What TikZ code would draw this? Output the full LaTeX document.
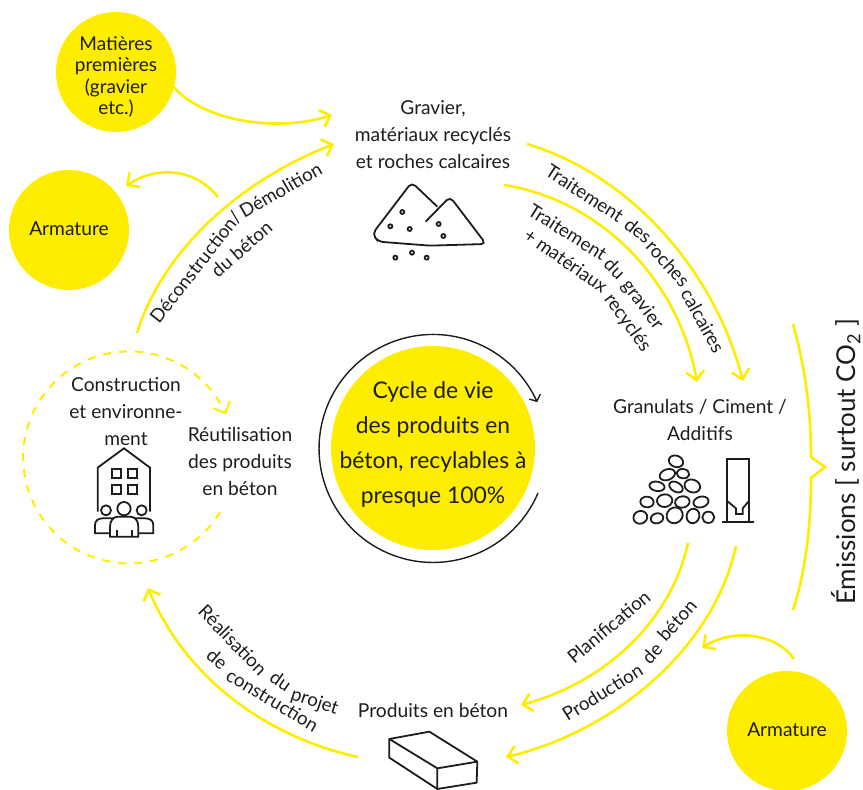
\documentclass[tikz,border=0pt]{standalone}
\usepackage{fontspec}
\setmainfont{Lato}
\usetikzlibrary{arrows.meta,bending}
\definecolor{cycleyellow}{HTML}{FFED00}
\definecolor{inktext}{HTML}{1D1D1B}
\tikzset{>={Straight Barb[length=9pt,width=18pt]}}
\tikzset{
  yellowdisc/.style={circle,fill=cycleyellow,inner sep=0pt,minimum size=#1},
  flowline/.style={draw=cycleyellow,line width=2.6pt,->},
  iconline/.style={draw=inktext,line width=1.8pt},
  label/.style={text=inktext,align=center,inner sep=0pt,font=\fontsize{19.2}{27}\selectfont},
  curveword/.style={text=inktext,inner sep=0pt,anchor=base,font=\fontsize{18.7}{22}\selectfont},
}

\begin{document}
\begin{tikzpicture}[x=1pt,y=-1pt]
  \clip (0,0) rectangle (863,790);

  % Discs
  \node[yellowdisc=120pt] (matieres) at (116,72) {};
  \node[yellowdisc=120pt] (armatureleft) at (69,230) {};
  \node[yellowdisc=120pt] (armatureright) at (787,731) {};
  \node[yellowdisc=204pt] (cycle) at (433,448) {};

  % Labels
  \node[label,font=\fontsize{19}{21.5}\selectfont] (matierestext) at (116,77) {Matières\\premières\\(gravier\\etc.)};
  \node[label] (armaturelefttext) at (69,229) {Armature};
  \node[label] (armaturerighttext) at (787,730) {Armature};
  \node[label,font=\fontsize{22.9}{35}\selectfont] (cycletext) at (433,445) {Cycle de vie\\des produits en\\béton, recylables à\\presque 100\%};
  \node[label] (gravier) at (433,135) {Gravier,\\matériaux recyclés\\et roches calcaires};
  \node[label] (granulats) at (700,420) {Granulats / Ciment /\\Additifs};
  \node[label] (produits) at (433,711) {Produits en béton};
  \node[label] (construction) at (126,412) {Construction\\et environne-\\ment};
  \node[label] (reutilisation) at (240,462) {Réutilisation\\des produits\\en béton};
  \node[label,rotate=90,font=\fontsize{26}{30}\selectfont] (emissions) at (846,462) {Émissions [ surtout CO\textsubscript{2} ]};

  % Free ends of the connectors
  \coordinate (gravierin) at (332,115);
  \coordinate (gravierback) at (334,144);
  \coordinate (demolition) at (137,333);
  \coordinate (armaturefork) at (218,197);
  \coordinate (armatureend) at (126,186);
  \coordinate (rochesout) at (527,144);
  \coordinate (rochesin) at (743,381);
  \coordinate (gravillonout) at (504,185);
  \coordinate (gravillonin) at (697,382);
  \coordinate (planout) at (688,543);
  \coordinate (planin) at (521,705);
  \coordinate (prodout) at (736,546);
  \coordinate (prodin) at (506,757);
  \coordinate (armaturestart) at (794,659);
  \coordinate (armaturejoin) at (702,648);
  \coordinate (realout) at (358,757);
  \coordinate (realin) at (148,588);

  % Connectors
  \draw[flowline] (matieres.-15.7) .. controls (205,122) and (280,133) .. (gravierin);
  \draw[flowline] (demolition) .. controls (163,250) and (240,180) .. (gravierback);
  \draw[flowline] (armaturefork) .. controls (195,168) and (155,165) .. (armatureend);
  \draw[flowline] (rochesout) .. controls (630,175) and (715,270) .. (rochesin);
  \draw[flowline] (gravillonout) .. controls (600,200) and (680,280) .. (gravillonin);
  \draw[flowline] (planout) .. controls (670,625) and (600,685) .. (planin);
  \draw[flowline] (prodout) .. controls (712,655) and (605,735) .. (prodin);
  \draw[flowline] (armaturestart) .. controls (775,632) and (730,628) .. (armaturejoin);
  \draw[flowline] (realout) .. controls (270,738) and (185,680) .. (realin);

  % Dashed cycle and black cycle
  \coordinate (reuseout) at (220,512);
  \draw[flowline,line width=2pt,dash pattern=on 8pt off 8pt] (reuseout) arc[start angle=31,end angle=336,radius=106];
  \coordinate (cycleout) at (538,493);
  \draw[draw=inktext,line width=1.4pt,-{Straight Barb[length=5pt,width=12pt]}] (cycleout) arc[start angle=23,end angle=336,radius=114];

  % Brace
  \draw[draw=cycleyellow,line width=2.6pt] (793,324) .. controls (806,370) and (811,415) .. (811,457) -- (825,467) -- (811,478) .. controls (811,525) and (806,570) .. (793,610);

  % Words along the connectors
  \node[curveword,rotate=-33] (roches1) at (581,199) {Traitement};
  \node[curveword,rotate=-38] (roches2) at (634,236) {des};
  \node[curveword,rotate=-48] (roches3) at (663,268) {roches};
  \node[curveword,rotate=-61] (roches4) at (697,324) {calcaires};
  \node[curveword,rotate=-32] (gravier1) at (564,238) {Traitement};
  \node[curveword,rotate=-45] (gravier2) at (610,273) {du};
  \node[curveword,rotate=-53] (gravier3) at (638,308) {gravier};
  \node[curveword,rotate=-35] (recycles1) at (562,266) {+ matériaux};
  \node[curveword,rotate=-54] (recycles2) at (623,326) {recyclés};
  \node[curveword,rotate=52] (demo1) at (201,271) {Déconstruction/};
  \node[curveword,rotate=30] (demo2) at (284,196) {Démolition};
  \node[curveword,rotate=41] (demo3) at (246,254) {du béton};
  \node[curveword,rotate=-46] (real1) at (228,645) {Réalisation};
  \node[curveword,rotate=-35] (real2) at (277,686) {du};
  \node[curveword,rotate=-18] (real3) at (313,707) {projet};
  \node[curveword,rotate=-40] (real4) at (213,664) {de};
  \node[curveword,rotate=-31] (real5) at (269,706) {construction};
  \node[curveword,rotate=40] (plan1) at (613,632) {Planification};
  \node[curveword,rotate=32] (prod1) at (606,698) {Production};
  \node[curveword,rotate=48] (prod2) at (657,658) {de};
  \node[curveword,rotate=48] (prod3) at (682,625) {béton};

  % Gravel heap
  \begin{scope}[shift={(340,90)},scale=0.3333]
    \draw[iconline,rounded corners=5pt] (292,350) -- (215,277) -- (97,432) -- (115,455) -- (270,467) -- (438,462) -- (330,320) -- (257,395);
    \foreach \x/\y in {187/366,151/409,209/417,296/402,310/438,166/503,216/488,260/503}
      \draw[iconline] (\x,\y) circle (6);
  \end{scope}

  % Stones and silo
  \begin{scope}[shift={(600,380)},scale=0.3333]
    \foreach \x/\y/\rx/\ry/\tilt in {228/244/20/15/-20,202/284/22/14/20,249/281/17/12/-10,171/319/21/12/-10,228/321/20/12/-30,277/318/22/17/-20,141/366/18/14/-5,194/362/21/17/5,247/366/20/15/10,303/366/21/14/15,121/412/19/17/20,171/415/17/13/15,224/406/23/21/40,279/408/17/20/-15,325/412/16/15/0}
      \draw[iconline,rotate around={\tilt:(\x,\y)}] (\x,\y) ellipse [x radius=\rx+2,y radius=\ry+2];
    \draw[iconline] (380,425) -- (380,238) -- (448,238) -- (448,425);
    \draw[iconline] (367,425) -- (462,425);
    \draw[iconline] (380,362) -- (408,385) -- (408,402) -- (428,402) -- (428,385) -- (448,362);
  \end{scope}

  % House and people
  \begin{scope}[shift={(20,340)},scale=0.3333]
    \draw[iconline] (233,515) -- (233,383) -- (312,325) -- (390,383) -- (390,515);
    \foreach \x/\y in {276/386,324/386,276/434,324/434}
      \draw[iconline] (\x,\y) rectangle ++(28,28);
    \draw[iconline,fill=white] (258,511) circle (15);
    \draw[iconline,fill=white] (365,511) circle (15);
    \draw[iconline,fill=white] (225,580) -- (225,555) .. controls (225,542) and (235,535) .. (248,535) -- (375,535) .. controls (390,535) and (400,542) .. (400,555) -- (400,580) -- cycle;
    \draw[iconline,fill=white] (312,506) circle (20);
    \draw[iconline,fill=white] (270,590) -- (270,560) .. controls (270,542) and (280,530) .. (295,530) -- (330,530) .. controls (345,530) and (355,542) .. (355,560) -- (355,590) -- cycle;
    \draw[iconline] (290,570) -- (290,590);
    \draw[iconline] (335,570) -- (335,590);
  \end{scope}

  % Block
  \begin{scope}[shift={(350,690)},scale=0.3333]
    \draw[iconline,line join=round] (118,147) -- (238,125) -- (382,215) -- (262,235) -- cycle;
    \draw[iconline,line join=round] (118,147) -- (118,203) -- (262,297) -- (262,235);
    \draw[iconline,line join=round] (262,297) -- (380,278) -- (382,215);
  \end{scope}
\end{tikzpicture}
\end{document}
